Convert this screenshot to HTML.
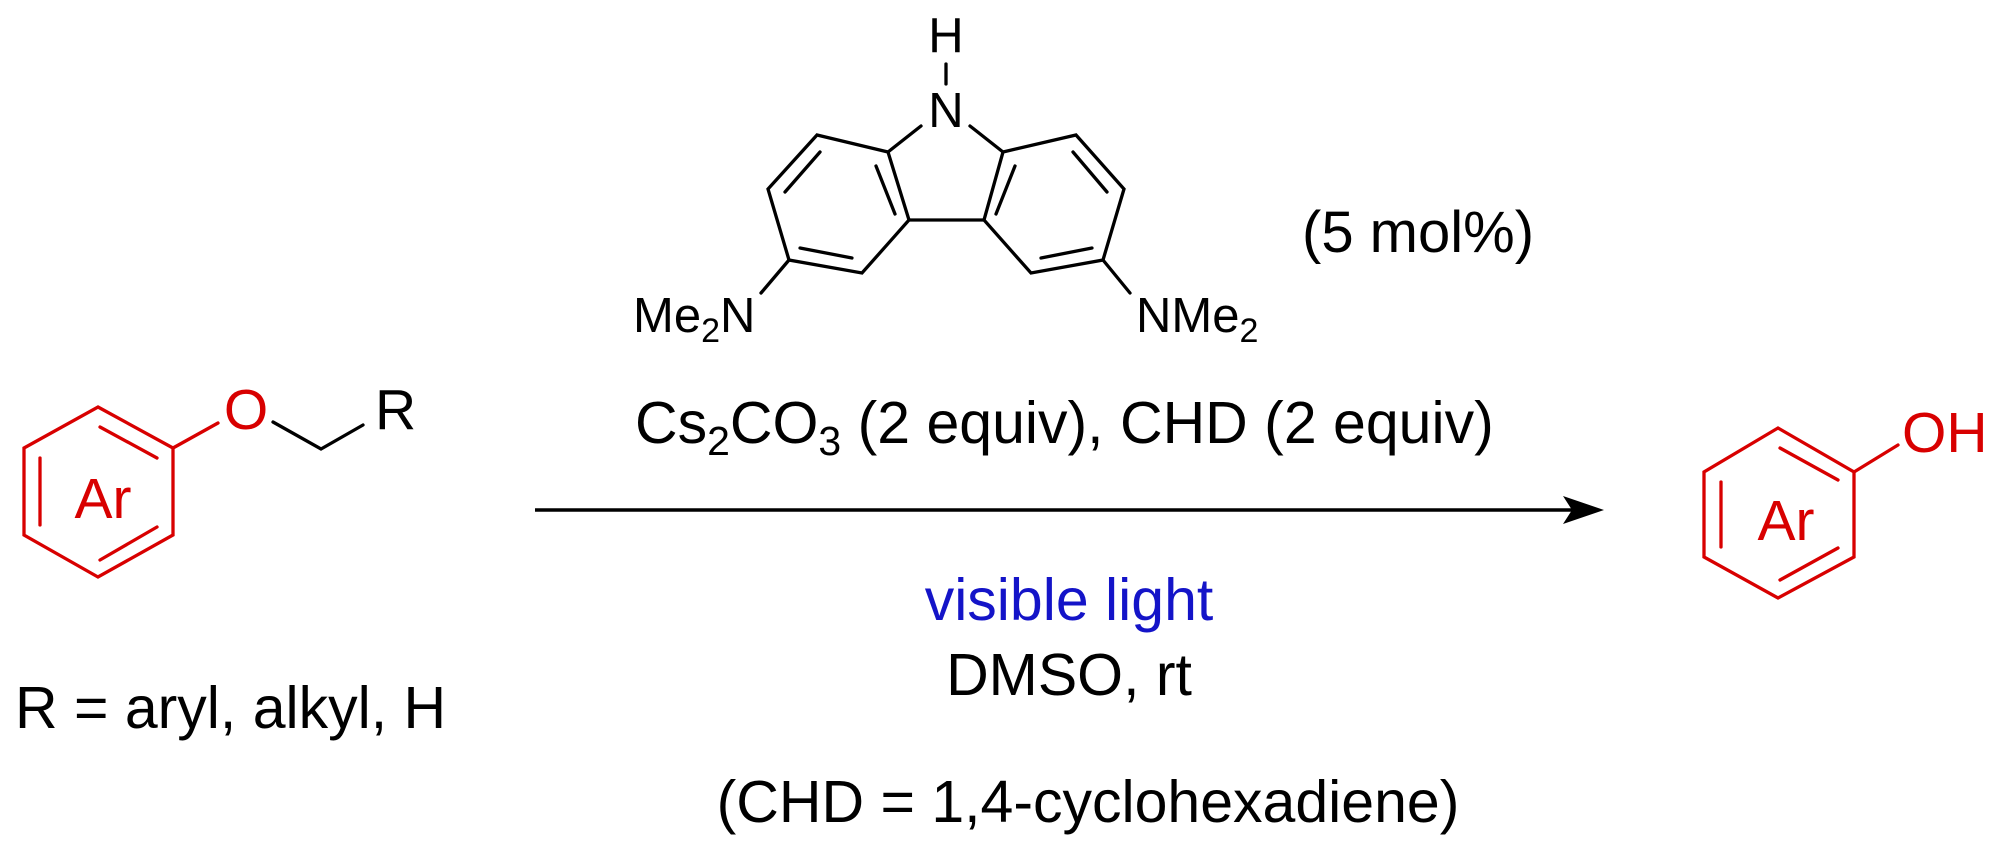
<!DOCTYPE html>
<html><head><meta charset="utf-8"><style>
html,body{margin:0;padding:0;background:#fff;}
svg{display:block;}
text{font-family:"Liberation Sans",Arial,sans-serif;}
</style></head><body>
<svg width="2008" height="868" viewBox="0 0 2008 868" xmlns="http://www.w3.org/2000/svg">
<!-- Carbazole -->
<g stroke="#000" stroke-width="3.3" fill="none" stroke-linecap="round">
 <line x1="946" y1="64" x2="946" y2="84"/>
 <line x1="921" y1="126" x2="888" y2="152"/>
 <line x1="970" y1="126" x2="1003" y2="152"/>
 <polygon points="888,152 817,135 768,189 789,260 862,273 909,220"/>
 <polygon points="1003,152 1076,135 1124,189 1103,260 1031,273 984,220"/>
 <line x1="909" y1="220" x2="984" y2="220"/>
 <line x1="820" y1="152" x2="785" y2="192"/>
 <line x1="876" y1="166" x2="895" y2="214"/>
 <line x1="800" y1="248" x2="852" y2="258"/>
 <line x1="1073" y1="152" x2="1107" y2="192"/>
 <line x1="1015" y1="166" x2="996" y2="214"/>
 <line x1="1092" y1="248" x2="1041" y2="258"/>
 <line x1="789" y1="260" x2="761" y2="293"/>
 <line x1="1103" y1="260" x2="1130" y2="293"/>
</g>
<g font-size="49" fill="#000">
 <text x="946" y="52" text-anchor="middle">H</text>
 <text x="946" y="127" text-anchor="middle">N</text>
 <text x="633" y="332">Me<tspan font-size="34" dy="10">2</tspan><tspan dy="-10">N</tspan></text>
 <text x="1136" y="332">NMe<tspan font-size="34" dy="10">2</tspan></text>
</g>
<text x="1302" y="252" font-size="58">(5 mol%)</text>
<text x="635" y="443" font-size="59">Cs<tspan font-size="41" dy="12">2</tspan><tspan dy="-12">CO</tspan><tspan font-size="41" dy="12">3</tspan><tspan dy="-12"> (2 equiv), CHD (2 equiv)</tspan></text>

<!-- Arrow -->
<line x1="535" y1="510" x2="1575" y2="510" stroke="#000" stroke-width="3.5"/>
<polygon points="1604,510 1563,496 1572,510 1563,524" fill="#000"/>

<text x="1069" y="620" font-size="59" fill="#1414c8" text-anchor="middle">visible light</text>
<text x="1069" y="695" font-size="59" text-anchor="middle">DMSO, rt</text>
<text x="1088" y="822" font-size="59" text-anchor="middle">(CHD = 1,4-cyclohexadiene)</text>
<text x="15" y="728" font-size="59">R = aryl, alkyl, H</text>

<!-- Left reactant -->
<g stroke="#d80000" stroke-width="3.3" fill="none" stroke-linecap="round">
 <polygon points="98,407 173,448 173,535 98,577 24,535 24,448"/>
 <line x1="40" y1="458" x2="40" y2="525"/>
 <line x1="100" y1="427" x2="157" y2="458"/>
 <line x1="100" y1="560" x2="157" y2="527"/>
 <line x1="173" y1="448" x2="218" y2="423"/>
</g>
<g stroke="#000" stroke-width="3.3" fill="none" stroke-linecap="round">
 <polyline points="273,422 321,449 363,425"/>
</g>
<text x="246" y="429" font-size="57" fill="#d80000" text-anchor="middle">O</text>
<text x="375" y="429" font-size="57">R</text>
<text x="103" y="518" font-size="57" fill="#d80000" text-anchor="middle">Ar</text>

<!-- Product -->
<g stroke="#d80000" stroke-width="3.3" fill="none" stroke-linecap="round">
 <polygon points="1778,428 1854,472 1854,557 1778,598 1704,557 1704,472"/>
 <line x1="1721" y1="482" x2="1721" y2="547"/>
 <line x1="1780" y1="448" x2="1838" y2="480"/>
 <line x1="1780" y1="580" x2="1838" y2="548"/>
 <line x1="1854" y1="472" x2="1898" y2="445"/>
</g>
<text x="1902" y="452" font-size="57" fill="#d80000">OH</text>
<text x="1786" y="540" font-size="57" fill="#d80000" text-anchor="middle">Ar</text>
</svg>
</body></html>
